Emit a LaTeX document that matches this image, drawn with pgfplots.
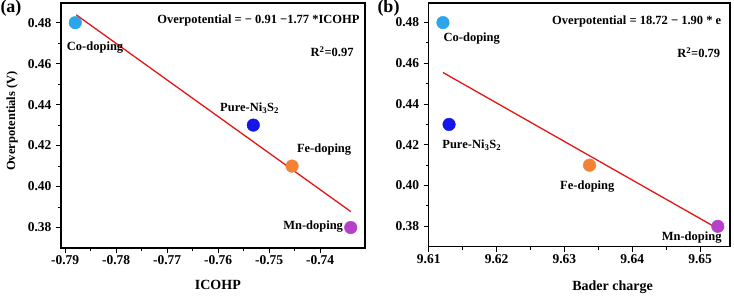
\documentclass[border=0pt]{standalone}
\usepackage{pgfplots}
\pgfplotsset{compat=1.18}
\usepackage{fontspec}
\setmainfont{Liberation Serif}
\definecolor{cCo}{RGB}{45,165,235}
\definecolor{cPure}{RGB}{20,20,235}
\definecolor{cFe}{RGB}{245,130,50}
\definecolor{cMn}{RGB}{180,65,200}
\definecolor{cLine}{RGB}{230,20,20}
\tikzset{ann/.style={font=\fontsize{12.5}{14}\selectfont\bfseries}}
\pgfplotsset{
  myax/.style={
    scale only axis,
    axis line style={line width=1.2pt},
    every tick/.style={line width=1pt, black},
    tick align=outside,
    xtick pos=left, ytick pos=left,
    major tick length=5pt, minor tick length=3pt,
    minor tick num=1,
    ticklabel style={font=\fontsize{13.5}{15}\selectfont\bfseries},
    yticklabel style={xshift=-1pt},
    xticklabel style={yshift=1pt},
    /pgf/number format/assume math mode=true,
    /pgf/number format/fixed,
    /pgf/number format/fixed zerofill,
    /pgf/number format/precision=2,
    ymin=0.37, ymax=0.4896,
    ytick={0.38,0.40,0.42,0.44,0.46,0.48},
    clip=false,
    label style={font=\fontsize{14}{16}\selectfont\bfseries},
  },
  dot/.style={only marks, mark=*, mark size=6.3pt, color=#1, mark options={draw=#1, fill=#1}},
}
\begin{document}
\begin{tikzpicture}
\path[use as bounding box] (0pt,0pt) rectangle (734pt,-295pt);
% panel (a)
\begin{axis}[myax,
  at={(61pt,-248pt)}, anchor=south west,
  width=304pt, height=245pt,
  xmin=-0.7908, xmax=-0.7312,
  xtick={-0.79,-0.78,-0.77,-0.76,-0.75,-0.74},
  xlabel={ICOHP},
  xlabel style={at={(axis description cs:0.516,-0.151)}, anchor=center},
  ylabel={Overpotentials (V)},
  ylabel style={at={(axis description cs:-0.161,0.518)}, anchor=center, font=\fontsize{12.5}{14}\selectfont\bfseries},
]
\addplot[cLine, line width=1.3pt] coordinates {(-0.7878,0.4838) (-0.7340,0.3878)};
\addplot[dot=cCo] coordinates {(-0.7880,0.480)};
\addplot[dot=cPure] coordinates {(-0.7531,0.430)};
\addplot[dot=cFe] coordinates {(-0.7455,0.410)};
\addplot[dot=cMn] coordinates {(-0.7340,0.380)};
\node[ann, anchor=east] at (axis cs:-0.73157,0.4813) {Overpotential = − 0.91 −1.77 *ICOHP};
\node[ann, anchor=east] at (axis cs:-0.73275,0.4657) {R\textsuperscript{2}=0.97};
\node[ann] at (axis cs:-0.78412,0.4677) {Co-doping};
\node[ann] at (axis cs:-0.75382,0.4384) {Pure-Ni\textsubscript{3}S\textsubscript{2}};
\node[ann] at (axis cs:-0.73922,0.4179) {Fe-doping};
\node[ann] at (axis cs:-0.74137,0.3803) {Mn-doping};
\end{axis}
% panel (b)
\begin{axis}[myax,
  at={(428.7pt,-246.7pt)}, anchor=south west,
  width=301.3pt, height=243.7pt,
  xmin=9.61, xmax=9.6544,
  xtick={9.61,9.62,9.63,9.64,9.65},
  xlabel={Bader charge},
  xlabel style={at={(axis description cs:0.61,-0.165)}, anchor=center},
]
\addplot[cLine, line width=1.3pt] coordinates {(9.6121,0.4555) (9.6527,0.3787)};
\addplot[dot=cCo] coordinates {(9.6121,0.480)};
\addplot[dot=cPure] coordinates {(9.6130,0.430)};
\addplot[dot=cFe] coordinates {(9.6337,0.410)};
\addplot[dot=cMn] coordinates {(9.6526,0.380)};
\node[ann, anchor=east] at (axis cs:9.65362,0.4803) {Overpotential = 18.72 − 1.90 * e};
\node[ann, anchor=east] at (axis cs:9.65347,0.4651) {R\textsuperscript{2}=0.79};
\node[ann] at (axis cs:9.61635,0.4720) {Co-doping};
\node[ann] at (axis cs:9.61635,0.4197) {Pure-Ni\textsubscript{3}S\textsubscript{2}};
\node[ann] at (axis cs:9.63337,0.3995) {Fe-doping};
\node[ann] at (axis cs:9.64875,0.3744) {Mn-doping};
\end{axis}
\node[font=\fontsize{18}{20}\selectfont\bfseries] at (11pt,-8.5pt) {(a)};
\node[font=\fontsize{18}{20}\selectfont\bfseries] at (388.5pt,-8.5pt) {(b)};
\end{tikzpicture}
\end{document}
